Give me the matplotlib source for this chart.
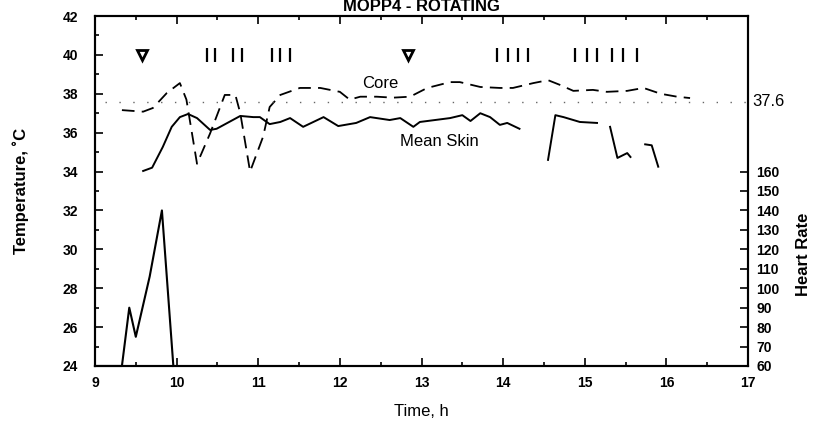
import matplotlib.pyplot as plt
from matplotlib.ticker import MultipleLocator

plt.rcParams['font.family'] = ['Liberation Sans', 'DejaVu Sans']

# -------------------------------
# Data
# -------------------------------
# Core temperature (dashed), deg C
core_t = [9.33, 9.59, 9.71, 9.88, 10.04, 10.12, 10.25, 10.41, 10.59, 10.72, 10.78,
          10.9, 11.06, 11.14, 11.27, 11.51, 11.76, 12.0, 12.12, 12.25, 12.45, 12.65,
          12.86, 13.07, 13.35, 13.47, 13.72, 13.96, 14.12, 14.37, 14.55, 14.7, 14.86,
          15.1, 15.27, 15.52, 15.72, 15.93, 16.13, 16.29]
core_v = [37.16, 37.08, 37.27, 38.04, 38.55, 37.7, 34.4, 35.96, 37.94, 37.94, 37.0,
          34.0, 35.8, 37.32, 37.94, 38.3, 38.3, 38.1, 37.7, 37.85, 37.85, 37.8,
          37.85, 38.3, 38.6, 38.6, 38.35, 38.3, 38.3, 38.55, 38.7, 38.45, 38.15,
          38.2, 38.1, 38.15, 38.3, 38.0, 37.85, 37.78]

# Mean skin temperature (solid), in separate segments
skin_segments = [
    ([9.59, 9.70, 9.83, 9.94, 10.04, 10.14, 10.25, 10.41, 10.49, 10.78, 10.94, 11.02,
      11.14, 11.27, 11.39, 11.55, 11.8, 11.98, 12.2, 12.37, 12.61, 12.74, 12.9, 12.98,
      13.35, 13.5, 13.6, 13.72, 13.84, 13.96, 14.05, 14.2],
     [34.03, 34.2, 35.26, 36.3, 36.8, 36.96, 36.75, 36.14, 36.2, 36.86, 36.8, 36.8,
      36.44, 36.55, 36.75, 36.3, 36.8, 36.34, 36.5, 36.8, 36.65, 36.75, 36.3, 36.55,
      36.75, 36.9, 36.6, 37.0, 36.8, 36.4, 36.5, 36.2]),
    ([14.55, 14.64, 14.74, 14.94, 15.15], [34.6, 36.9, 36.8, 36.55, 36.5]),
    ([15.31, 15.4, 15.52, 15.56], [36.3, 34.7, 34.95, 34.75]),
    ([15.74, 15.82, 15.9], [35.4, 35.35, 34.25]),
]

# Heart rate (right axis), beats/min
hr_t = [9.0, 9.33, 9.42, 9.5, 9.67, 9.82, 9.96]
hr_v = [60, 60, 90, 75, 106, 140, 60]

# Event markers along the 40 deg line
triangle_t = [9.58, 12.84]
event_t = [10.37, 10.47, 10.69, 10.8, 11.17, 11.27, 11.39,
           13.93, 14.06, 14.18, 14.31,
           14.88, 15.03, 15.15, 15.33, 15.47, 15.64]
marker_level = 40
reference_core = 37.6

x_ticks = list(range(9, 18))
temp_ticks = list(range(24, 43, 2))
hr_ticks = list(range(60, 161, 10))

# -------------------------------
# Plot
# -------------------------------
fig = plt.figure(figsize=(8.16, 4.28), dpi=100)
ax = fig.add_axes([0.1164, 0.1449, 0.8003, 0.8177])

ax.plot(core_t, core_v, color="black", linewidth=1.3, linestyle=(0, (7, 4)))
for seg_t, seg_v in skin_segments:
    ax.plot(seg_t, seg_v, color="black", linewidth=1.4)

ax.plot([9.12, 17], [reference_core, reference_core], color="#666666",
        linewidth=1.0, linestyle=(0, (1, 9)))
ax.text(17.05, reference_core, "37.6", fontsize=12, va="center", ha="left",
        clip_on=False)

ax.plot(triangle_t, [marker_level] * len(triangle_t), linestyle="none", marker="v",
        markersize=7, markerfacecolor="white", markeredgecolor="black",
        markeredgewidth=2)
ax.plot(event_t, [marker_level] * len(event_t), linestyle="none", marker="|",
        markersize=10, markeredgewidth=1.6, color="black")

ax.text(12.49, 38.55, "Core", fontsize=12, ha="center", va="center")
ax.text(13.22, 35.52, "Mean Skin", fontsize=12, ha="center", va="center")

ax.set_xlim(9, 17)
ax.set_ylim(24, 42)
ax.set_xticks(x_ticks)
ax.set_yticks(temp_ticks)
ax.xaxis.set_minor_locator(MultipleLocator(0.5))
ax.yaxis.set_minor_locator(MultipleLocator(1))
ax.tick_params(which="both", direction="in", top=True, labelsize=10, width=1.2)
ax.tick_params(which="major", length=6)
ax.tick_params(which="minor", length=3)
for lbl in ax.get_xticklabels() + ax.get_yticklabels():
    lbl.set_fontweight("bold")
ax.tick_params(axis="x", pad=7)
ax.tick_params(axis="y", pad=12)
ax.set_xlabel("Time, h", fontsize=12, labelpad=10)
ax.set_ylabel("Temperature, ˚C", fontsize=12, fontweight="bold", labelpad=24)

ax2 = ax.twinx()
ax2.plot(hr_t, hr_v, color="black", linewidth=1.5, clip_on=False)
ax2.set_ylim(60, 240)
ax2.set_yticks(hr_ticks)
ax2.tick_params(direction="in", length=6, width=1.2, labelsize=10, pad=6)
for lbl in ax2.get_yticklabels():
    lbl.set_fontweight("bold")
ax2.set_ylabel("Heart Rate", fontsize=12, fontweight="bold")
ax2.yaxis.set_label_coords(1.074, 0.32)

for a in (ax, ax2):
    for s in a.spines.values():
        s.set_linewidth(1.5)

fig.text(0.516, 1 - 14 / 428, "MOPP4 - ROTATING", fontsize=12, fontweight="bold",
         ha="center", va="bottom")

fig.savefig("out.png", dpi=100)
